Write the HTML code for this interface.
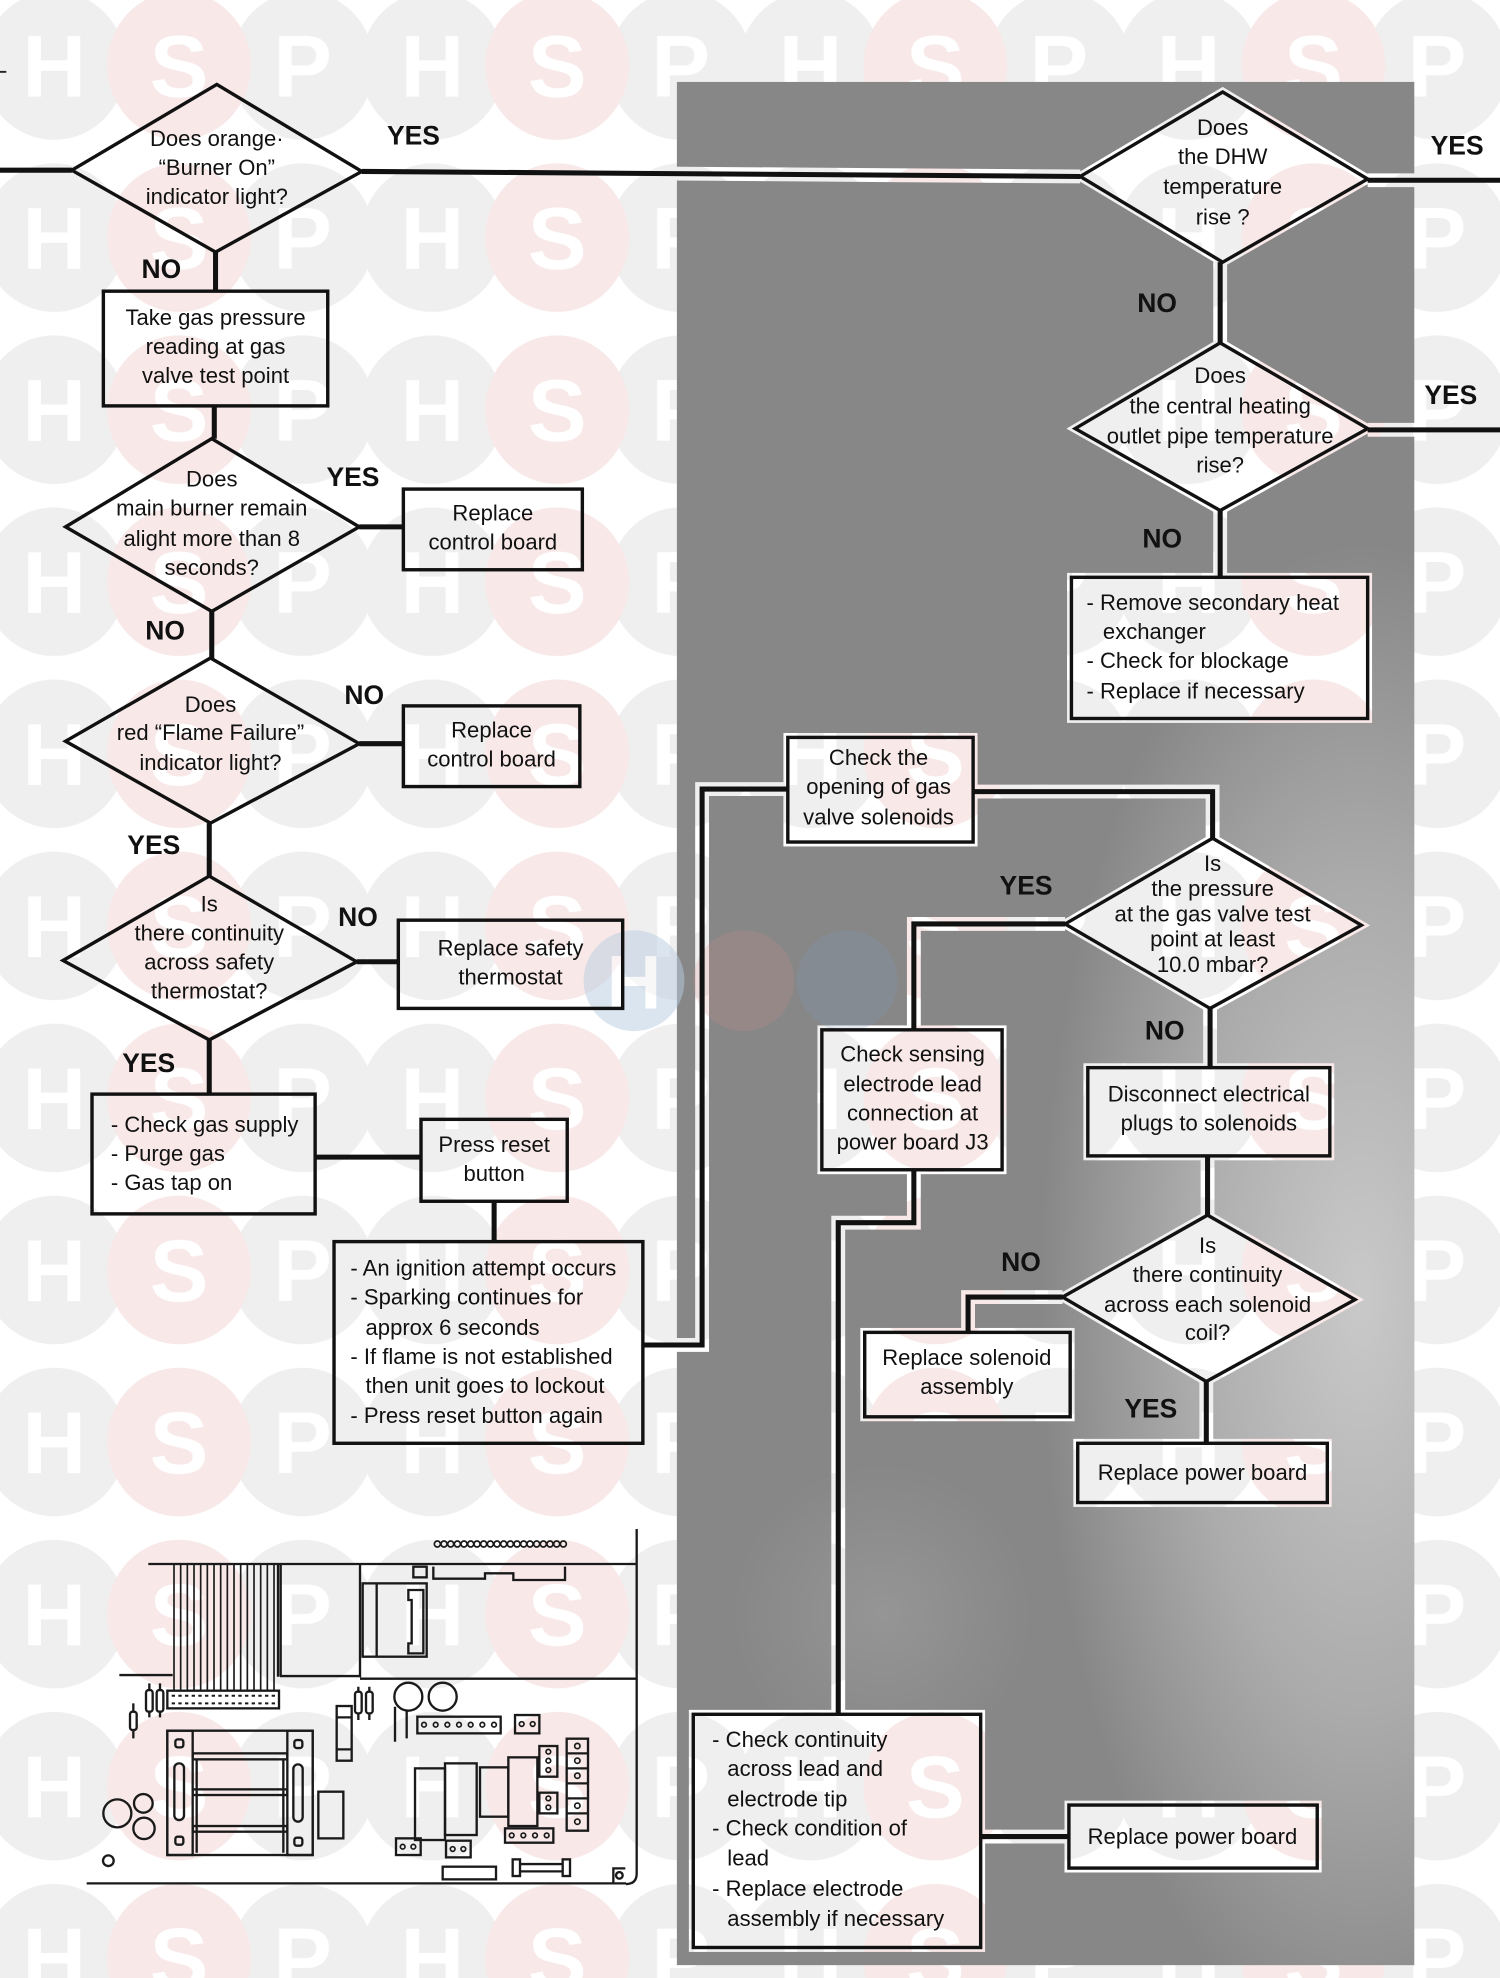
<!DOCTYPE html>
<html>
<head>
<meta charset="utf-8">
<style>
html,body{margin:0;padding:0;background:#fff;}
svg{display:block;}
</style>
</head>
<body>
<svg xmlns="http://www.w3.org/2000/svg" width="1500" height="1978" viewBox="0 0 1190 1569.2" preserveAspectRatio="none">
<defs>
  <pattern id="wm" patternUnits="userSpaceOnUse" x="-107" y="-16.25" width="300" height="136.5">
    <g fill="#f0efef">
      <ellipse cx="150" cy="68.25" rx="57" ry="59"/>
      <ellipse cx="47" cy="68.25" rx="57" ry="59"/>
      <ellipse cx="347" cy="68.25" rx="57" ry="59"/>
    </g>
    <g fill="#f8e8e8">
      <ellipse cx="249" cy="68.25" rx="57" ry="59"/>
      <ellipse cx="-51" cy="68.25" rx="57" ry="59"/>
    </g>
    <g fill="#ffffff" font-family="'Liberation Sans', Arial, sans-serif" font-weight="bold" font-size="70" text-anchor="middle">
      <text x="150" y="93">H</text>
      <text x="249" y="93">S</text>
      <text x="-51" y="93">S</text>
      <text x="47" y="93">P</text>
      <text x="347" y="93">P</text>
    </g>
  </pattern>

  <g id="rb">
    <polygon points="970,73 1085,142 970,208 857,140"/>
    <polygon points="968,272 1085,340 968,405 853,340"/>
    <rect x="850" y="458" width="235" height="112"/>
    <rect x="625" y="585" width="147" height="83"/>
    <polygon points="962,665 1080,734 960,800 845,733"/>
    <rect x="652" y="817" width="143" height="111"/>
    <rect x="863" y="847" width="192" height="70"/>
    <polygon points="958,964 1075,1031 957,1096 843,1029"/>
    <rect x="686" y="1057" width="163" height="67"/>
    <rect x="855" y="1145" width="198" height="47"/>
    <rect x="550" y="1360" width="228" height="185"/>
    <rect x="848" y="1432" width="197" height="50"/>
  </g>
  <g id="rl">
    <polyline points="287,136 857,140"/>
    <polyline points="1085,143 1190,143"/>
    <polyline points="968,208 968,272"/>
    <polyline points="1085,341 1190,341"/>
    <polyline points="968,405 968,458"/>
    <polyline points="510,1067 557,1067 557,626 625,626"/>
    <polyline points="772,628 962,628 962,665"/>
    <polyline points="845,733 725,733 725,817"/>
    <polyline points="725,928 725,970 665,970 665,1360"/>
    <polyline points="960,800 960,847"/>
    <polyline points="958,917 958,964"/>
    <polyline points="843,1029 768,1029 768,1057"/>
    <polyline points="957,1096 957,1145"/>
    <polyline points="778,1457 848,1457"/>
  </g>

  <mask id="sm" maskUnits="userSpaceOnUse" x="0" y="0" width="1190" height="1570">
    <rect x="0" y="0" width="1190" height="1570" fill="#fff"/>
    <use href="#rb" fill="#000" stroke="#000" stroke-width="7"/>
    <use href="#rl" fill="none" stroke="#000" stroke-width="11"/>
  </mask>

  <radialGradient id="lg1" gradientUnits="userSpaceOnUse" cx="1080" cy="1030" r="300" gradientTransform="translate(1080 1030) scale(0.85 2.0) translate(-1080 -1030)">
    <stop offset="0" stop-color="#fff" stop-opacity="0.55"/>
    <stop offset="0.55" stop-color="#fff" stop-opacity="0.3"/>
    <stop offset="1" stop-color="#fff" stop-opacity="0"/>
  </radialGradient>
  <radialGradient id="lg3" gradientUnits="userSpaceOnUse" cx="700" cy="1280" r="120">
    <stop offset="0" stop-color="#fff" stop-opacity="0.12"/>
    <stop offset="1" stop-color="#fff" stop-opacity="0"/>
  </radialGradient>
</defs>

<rect x="0" y="0" width="1190" height="1570" fill="#fff"/>
<rect x="0" y="0" width="1190" height="1570" fill="url(#wm)"/>

<g mask="url(#sm)">
  <rect x="537" y="65" width="585" height="1494" fill="#878787"/>
  <rect x="537" y="65" width="585" height="1494" fill="url(#lg1)"/>
  <rect x="537" y="65" width="585" height="1494" fill="url(#lg3)"/>
</g>

<g opacity="0.5">
  <circle cx="503" cy="778" r="40" fill="#b9cde2"/>
  <text x="503" y="800" font-family="'Liberation Sans', Arial, sans-serif" font-weight="bold" font-size="60" fill="#fff" text-anchor="middle">H</text>
</g>
<circle cx="590" cy="778" r="40" fill="#d88a8a" opacity="0.2"/>
<circle cx="672" cy="778" r="40" fill="#7f9cc4" opacity="0.2"/>

<line x1="0" y1="57" x2="5" y2="57" stroke="#222" stroke-width="1.5"/>

<use href="#rl" fill="none" stroke="#111" stroke-width="4"/>
<use href="#rb" fill="none" stroke="#111" stroke-width="2.7"/>

<g fill="none" stroke="#111" stroke-width="4">
  <polyline points="0,135 57,135"/>
  <polyline points="171,200 171,231"/>
  <polyline points="170,322 170,348"/>
  <polyline points="285,418 320,418"/>
  <polyline points="168,485 168,522"/>
  <polyline points="285,590 320,590"/>
  <polyline points="166,653 166,695"/>
  <polyline points="283,763 316,763"/>
  <polyline points="166,825 166,868"/>
  <polyline points="250,918 334,918"/>
  <polyline points="392,953 392,985"/>
</g>
<g fill="none" stroke="#111" stroke-width="2.7">
  <polygon points="172,67 287,136 171,200 57,135"/>
  <rect x="82" y="231" width="178" height="91"/>
  <polygon points="168,348 285,418 168,485 52,418"/>
  <rect x="320" y="388" width="142" height="64"/>
  <polygon points="167,522 285,590 167,653 52,588"/>
  <rect x="320" y="560" width="140" height="64"/>
  <polygon points="166,695 283,763 166,825 50,762"/>
  <rect x="316" y="730" width="178" height="70"/>
  <rect x="73" y="868" width="177" height="95"/>
  <rect x="334" y="888" width="116" height="65"/>
  <rect x="265" y="985" width="245" height="160"/>
</g>

<g font-family="'Liberation Sans', Arial, sans-serif" font-size="17.5" fill="#111" text-anchor="middle">
  <text x="172" y="116">Does orange·</text>
  <text x="172" y="139">“Burner On”</text>
  <text x="172" y="162">indicator light?</text>

  <text x="171" y="258">Take gas pressure</text>
  <text x="171" y="281">reading at gas</text>
  <text x="171" y="304">valve test point</text>

  <text x="168" y="386">Does</text>
  <text x="168" y="409">main burner remain</text>
  <text x="168" y="433">alight more than 8</text>
  <text x="168" y="456">seconds?</text>

  <text x="391" y="413">Replace</text>
  <text x="391" y="436">control board</text>

  <text x="167" y="565">Does</text>
  <text x="167" y="587">red “Flame Failure”</text>
  <text x="167" y="611">indicator light?</text>

  <text x="390" y="585">Replace</text>
  <text x="390" y="608">control board</text>

  <text x="166" y="723">Is</text>
  <text x="166" y="746">there continuity</text>
  <text x="166" y="769">across safety</text>
  <text x="166" y="792">thermostat?</text>

  <text x="405" y="758">Replace safety</text>
  <text x="405" y="781">thermostat</text>

  <text x="392" y="914">Press reset</text>
  <text x="392" y="937">button</text>

  <text x="970" y="107">Does</text>
  <text x="970" y="130">the DHW</text>
  <text x="970" y="154">temperature</text>
  <text x="970" y="178">rise ?</text>

  <text x="968" y="304">Does</text>
  <text x="968" y="328">the central heating</text>
  <text x="968" y="352">outlet pipe temperature</text>
  <text x="968" y="375">rise?</text>

  <text x="697" y="607">Check the</text>
  <text x="697" y="630">opening of gas</text>
  <text x="697" y="654">valve solenoids</text>

  <text x="962" y="691">Is</text>
  <text x="962" y="711">the pressure</text>
  <text x="962" y="731">at the gas valve test</text>
  <text x="962" y="751">point at least</text>
  <text x="962" y="771">10.0 mbar?</text>

  <text x="724" y="842">Check sensing</text>
  <text x="724" y="866">electrode lead</text>
  <text x="724" y="889">connection at</text>
  <text x="724" y="912">power board J3</text>

  <text x="959" y="874">Disconnect electrical</text>
  <text x="959" y="897">plugs to solenoids</text>

  <text x="958" y="994">Is</text>
  <text x="958" y="1017">there continuity</text>
  <text x="958" y="1041">across each solenoid</text>
  <text x="958" y="1063">coil?</text>

  <text x="767" y="1083">Replace solenoid</text>
  <text x="767" y="1106">assembly</text>

  <text x="954" y="1174">Replace power board</text>
  <text x="946" y="1463">Replace power board</text>
</g>
<g font-family="'Liberation Sans', Arial, sans-serif" font-size="17.5" fill="#111" text-anchor="start">
  <text x="88" y="898">- Check gas supply</text>
  <text x="88" y="921">- Purge gas</text>
  <text x="88" y="944">- Gas tap on</text>

  <text x="278" y="1012">- An ignition attempt occurs</text>
  <text x="278" y="1035">- Sparking continues for</text>
  <text x="290" y="1059">approx 6 seconds</text>
  <text x="278" y="1082">- If flame is not established</text>
  <text x="290" y="1105">then unit goes to lockout</text>
  <text x="278" y="1129">- Press reset button again</text>

  <text x="862" y="484">- Remove secondary heat</text>
  <text x="875" y="507">exchanger</text>
  <text x="862" y="530">- Check for blockage</text>
  <text x="862" y="554">- Replace if necessary</text>

  <text x="565" y="1386">- Check continuity</text>
  <text x="577" y="1409">across lead and</text>
  <text x="577" y="1433">electrode tip</text>
  <text x="565" y="1456">- Check condition of</text>
  <text x="577" y="1480">lead</text>
  <text x="565" y="1504">- Replace electrode</text>
  <text x="577" y="1528">assembly if necessary</text>
</g>

<g font-family="'Liberation Sans', Arial, sans-serif" font-size="21" font-weight="bold" fill="#111" text-anchor="middle">
  <text x="328" y="114.5">YES</text>
  <text x="128" y="220.5">NO</text>
  <text x="280" y="385.5">YES</text>
  <text x="131" y="507.5">NO</text>
  <text x="289" y="558.5">NO</text>
  <text x="122" y="677.5">YES</text>
  <text x="284" y="734.5">NO</text>
  <text x="118" y="850.5">YES</text>
  <text x="1156" y="122.5">YES</text>
  <text x="918" y="247.5">NO</text>
  <text x="1151" y="320.5">YES</text>
  <text x="922" y="434.5">NO</text>
  <text x="814" y="709.5">YES</text>
  <text x="924" y="824.5">NO</text>
  <text x="810" y="1008.5">NO</text>
  <text x="913" y="1124.5">YES</text>
</g>

<g transform="translate(63.47,1205.87) scale(0.26445)" fill="none" stroke="#1a1a1a" stroke-width="7">
  <g stroke-width="5">
    <circle cx="1072" cy="72" r="9"/><circle cx="1092" cy="72" r="9"/><circle cx="1112" cy="72" r="9"/><circle cx="1132" cy="72" r="9"/><circle cx="1152" cy="72" r="9"/>
    <circle cx="1172" cy="72" r="9"/><circle cx="1191" cy="72" r="9"/><circle cx="1211" cy="72" r="9"/><circle cx="1231" cy="72" r="9"/><circle cx="1251" cy="72" r="9"/>
    <circle cx="1271" cy="72" r="9"/><circle cx="1291" cy="72" r="9"/><circle cx="1311" cy="72" r="9"/><circle cx="1331" cy="72" r="9"/><circle cx="1350" cy="72" r="9"/>
    <circle cx="1370" cy="72" r="9"/><circle cx="1390" cy="72" r="9"/><circle cx="1410" cy="72" r="9"/><circle cx="1430" cy="72" r="9"/><circle cx="1450" cy="72" r="9"/>
  </g>
  <path d="M205,132 H1670"/>
  <path d="M1670,27 V1060 Q1670,1092 1638,1092"/>
  <path d="M20,1090 H1638"/>
  <path stroke-width="5" d="M282,135V512 M302,135V512 M322,135V512 M342,135V512 M362,135V512 M382,135V512 M402,135V512 M422,135V512 M442,135V512 M462,135V512 M482,135V512 M502,135V512 M522,135V512 M542,135V512 M562,135V512 M582,135V512"/>
  <path d="M594,135 V470 M602,135 V470"/>
  <path d="M118,465 H278 M600,468 H840 M840,132 V472 M840,476 H1670"/>
  <rect x="848" y="190" width="192" height="220"/>
  <path d="M890,190 V410"/>
  <path d="M985,210 H1030 V400 H985 V370 H995 V240 H985 Z"/>
  <rect x="1000" y="140" width="40" height="32"/>
  <path d="M1060,140 V176 H1215 V160 H1300 V180 H1455 V140"/>
  <rect x="262" y="512" width="335" height="53"/>
  <path d="M275,527 H585 M275,550 H585" stroke-dasharray="10 10" stroke-width="6"/>
  <rect x="198" y="510" width="20" height="65" rx="8"/><path d="M208,490 V510 M208,575 V592"/>
  <rect x="230" y="510" width="20" height="65" rx="8"/><path d="M240,490 V510 M240,575 V592"/>
  <rect x="150" y="575" width="20" height="55" rx="8"/><path d="M160,550 V575 M160,630 V655"/>
  <rect x="825" y="515" width="20" height="65" rx="8"/><path d="M835,500 V515 M835,580 V600"/>
  <rect x="858" y="515" width="20" height="65" rx="8"/><path d="M868,500 V515 M868,580 V600"/>
  <rect x="770" y="558" width="45" height="164"/><path d="M770,592 H815 M770,688 H815"/>
  <circle cx="985" cy="530" r="42"/><circle cx="1088" cy="530" r="42"/>
  <path d="M945,560 V665 M980,572 V655"/>
  <rect x="1012" y="590" width="250" height="50"/>
  <g stroke-width="5"><circle cx="1032" cy="614" r="7"/><circle cx="1067" cy="614" r="7"/><circle cx="1102" cy="614" r="7"/><circle cx="1137" cy="614" r="7"/><circle cx="1172" cy="614" r="7"/><circle cx="1207" cy="614" r="7"/><circle cx="1242" cy="614" r="7"/></g>
  <rect x="1305" y="585" width="73" height="55"/>
  <g stroke-width="5"><circle cx="1325" cy="612" r="7"/><circle cx="1358" cy="612" r="7"/></g>
  <rect x="262" y="632" width="436" height="373"/>
  <rect x="262" y="632" width="76" height="373"/>
  <rect x="622" y="632" width="76" height="373"/>
  <rect x="286" y="658" width="24" height="24" rx="7"/><rect x="286" y="950" width="24" height="24" rx="7"/>
  <rect x="643" y="660" width="24" height="24" rx="7"/><rect x="643" y="953" width="24" height="24" rx="7"/>
  <rect x="283" y="730" width="29" height="170" rx="14"/>
  <rect x="640" y="733" width="28" height="172" rx="14"/>
  <rect x="338" y="700" width="284" height="18"/>
  <rect x="338" y="808" width="284" height="17"/>
  <rect x="338" y="918" width="284" height="17"/>
  <path d="M350,718 V998 M610,718 V998"/>
  <circle cx="112" cy="880" r="42"/><circle cx="190" cy="850" r="28"/><circle cx="192" cy="925" r="32"/><circle cx="85" cy="1022" r="16"/>
  <rect x="715" y="815" width="75" height="140"/>
  <rect x="1005" y="745" width="90" height="215"/>
  <rect x="1095" y="730" width="95" height="215"/>
  <rect x="1200" y="742" width="85" height="148"/>
  <rect x="1285" y="712" width="87" height="206"/>
  <rect x="1378" y="678" width="54" height="92"/>
  <g stroke-width="5"><circle cx="1405" cy="695" r="7"/><circle cx="1405" cy="722" r="7"/><circle cx="1405" cy="750" r="7"/></g>
  <rect x="1378" y="818" width="54" height="62"/>
  <g stroke-width="5"><circle cx="1405" cy="835" r="7"/><circle cx="1405" cy="862" r="7"/></g>
  <rect x="1460" y="656" width="64" height="276"/>
  <path d="M1460,700 H1524 M1460,745 H1524 M1460,790 H1524 M1460,835 H1524 M1460,880 H1524"/>
  <g stroke-width="5"><circle cx="1492" cy="678" r="8"/><circle cx="1492" cy="722" r="8"/><circle cx="1492" cy="767" r="8"/><circle cx="1492" cy="857" r="8"/><circle cx="1492" cy="905" r="8"/></g>
  <rect x="1275" y="925" width="145" height="43"/>
  <g stroke-width="5"><circle cx="1295" cy="946" r="7"/><circle cx="1330" cy="946" r="7"/><circle cx="1365" cy="946" r="7"/><circle cx="1400" cy="946" r="7"/></g>
  <rect x="948" y="955" width="74" height="50"/>
  <g stroke-width="5"><circle cx="968" cy="980" r="7"/><circle cx="1000" cy="980" r="7"/></g>
  <rect x="1098" y="962" width="74" height="50"/>
  <g stroke-width="5"><circle cx="1118" cy="987" r="7"/><circle cx="1150" cy="987" r="7"/></g>
  <rect x="1088" y="1040" width="160" height="38"/>
  <rect x="1298" y="1018" width="22" height="50"/><rect x="1448" y="1018" width="22" height="50"/>
  <path d="M1320,1032 H1448 M1320,1054 H1448"/>
  <path d="M1600,1092 V1045 H1636"/>
  <circle cx="1618" cy="1066" r="10"/>
</g>
</svg>
</body>
</html>
